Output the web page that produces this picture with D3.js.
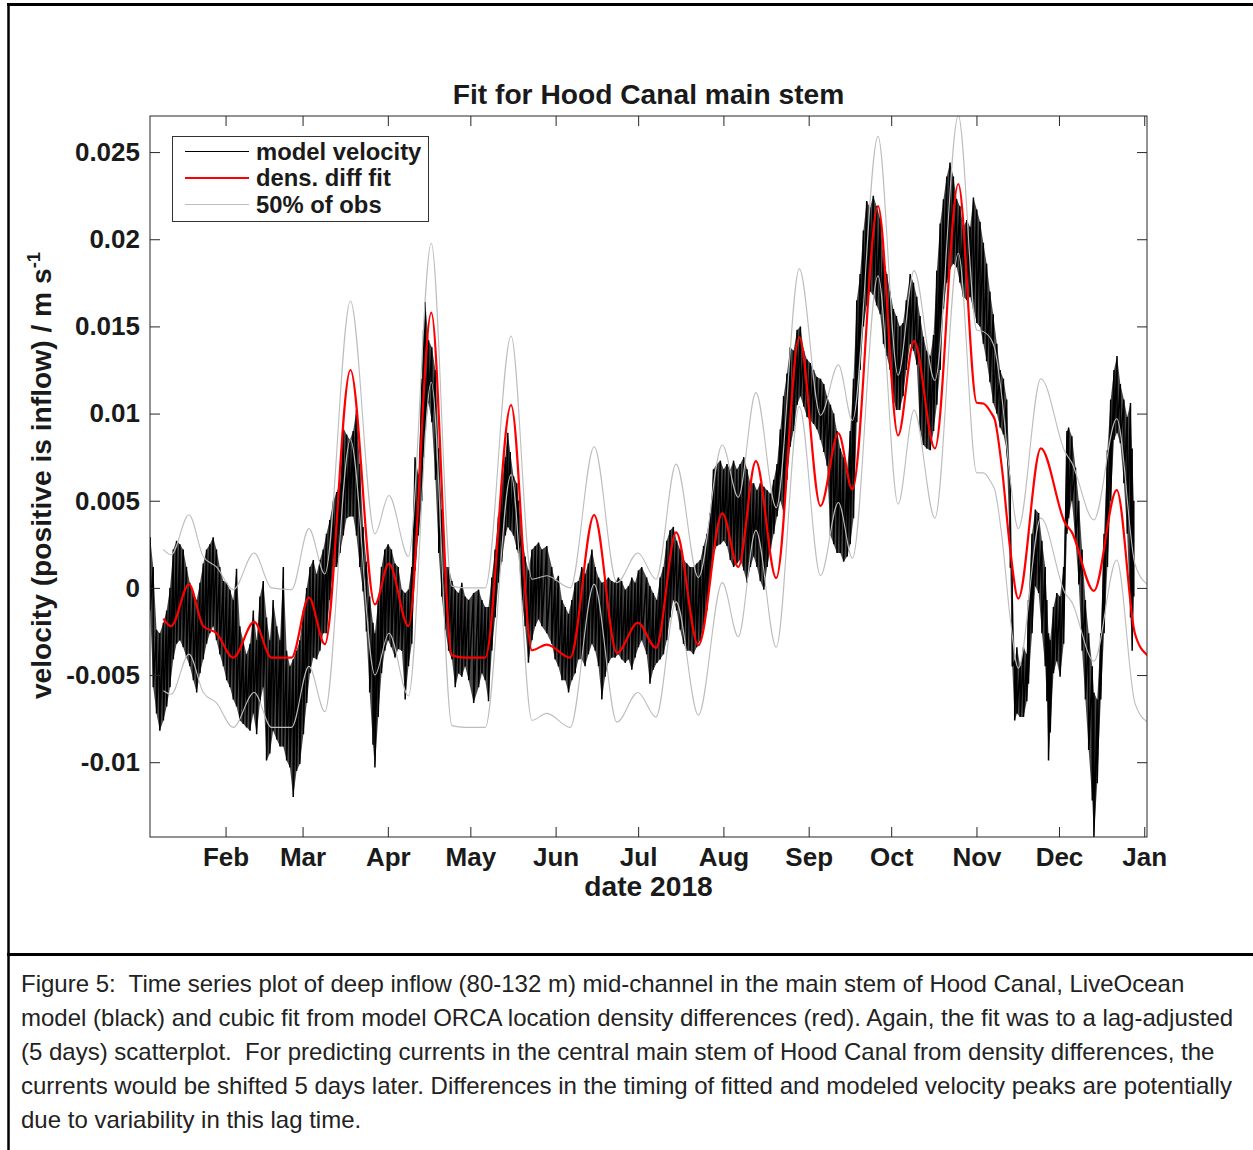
<!DOCTYPE html>
<html>
<head>
<meta charset="utf-8">
<script src="https://cdn.jsdelivr.net/npm/d3@7"></script>
<style>
  html, body { margin: 0; padding: 0; background: #fff; }
  svg { display: block; }
  .mfont { font-family: "Liberation Sans", Arial, Helvetica, sans-serif; font-weight: bold; fill: #1a1a1a; }
  .caption { font-family: "Liberation Sans", Arial, Helvetica, sans-serif; font-size: 24px; fill: #222; white-space: pre; }
</style>
</head>
<body>
<svg id="fig" width="1253" height="1150"></svg>
<script>
// ---------------- data (days counted from 2018-01-01 00:00 UTC) ----------------

// cubic fit from density differences
const fitDay = [8.4, 11.2, 17.7, 22.9, 27.7, 33.8, 41.4, 47.7, 55.0, 61.3, 67.1, 76.4, 85.3, 90.4,
  97.5, 105.8, 113.3, 118.1, 125.4, 134.8, 142.4, 147.8, 156.3, 165.0, 173.3, 180.9, 187.5, 194.8,
  202.9, 211.6, 217.4, 223.8, 231.2, 239.6, 247.3, 253.8, 258.9, 268.2, 275.5, 281.3, 288.9, 297.4,
  304.1, 306.5, 309.5, 310.7, 313.2, 316.3, 319.2, 327.4, 336.2, 338.6, 346.7, 355.0, 361.6, 366.1];
const fitValue = [-0.00176, -0.0022, 0.0002, -0.0022, -0.0026, -0.0040, -0.00195, -0.0040, -0.0040,
  -0.00055, -0.00323, 0.0125, -0.00095, 0.0014, -0.0022, 0.01579, -0.00386, -0.0040, -0.0040, 0.01049,
  -0.00358, -0.00325, -0.0040, 0.00417, -0.00373, -0.0020, -0.00344, 0.00318, -0.00329, 0.00427,
  0.0012, 0.00727, 0.00057, 0.01437, 0.0047, 0.00886, 0.00565, 0.0219, 0.00875, 0.01415, 0.0080,
  0.02317, 0.01062, 0.01058, 0.0100, 0.00963, 0.00695, 0.00217, -0.00061, 0.0080, 0.00373, 0.00321,
  -0.00017, 0.00561, -0.00262, -0.00386];

// 50% of observations band (upper and lower edges)
const obsHigh = [0.0022, 0.0019, 0.0042, 0.0018, 0.0012, -0.0001, 0.0020, 0.0000, -0.0001, 0.0034,
  0.0008, 0.01646, 0.0031, 0.0053, 0.0018, 0.01977, 0.0001, 0.0000, 0.0000, 0.01445, 0.0005, 0.0007,
  0.0000, 0.0081, 0.0003, 0.0020, 0.0005, 0.0071, 0.0006, 0.0082, 0.0052, 0.0112, 0.0046, 0.0183,
  0.0099, 0.0128, 0.0096, 0.0259, 0.0122, 0.0182, 0.0119, 0.0271, 0.0148, 0.0147, 0.0142, 0.0137,
  0.0110, 0.0062, 0.0034, 0.0120, 0.0078, 0.0072, 0.0039, 0.0097, 0.0014, 0.0002];
const obsLow = [-0.0059, -0.0061, -0.0038, -0.0060, -0.0066, -0.0080, -0.0060, -0.0080, -0.0080,
  -0.0045, -0.0071, 0.0085, -0.0050, -0.0026, -0.0062, 0.0118, -0.0079, -0.0080, -0.0080, 0.0065,
  -0.0076, -0.0072, -0.0080, 0.0002, -0.0077, -0.0060, -0.0074, -0.0008, -0.0073, 0.0003, -0.0028,
  0.0033, -0.0034, 0.0104, 0.0007, 0.0049, 0.0017, 0.0179, 0.0048, 0.0102, 0.0040, 0.0192, 0.0066,
  0.0066, 0.0060, 0.0056, 0.0030, -0.0018, -0.0046, 0.0040, -0.0003, -0.0008, -0.0042, 0.0016,
  -0.0066, -0.0077];

// model velocity: [day, tidal high, tidal low]
const modelVelocity = [
  [3.6, 0.0029, -0.0013], [4.7, 0.0012, -0.0057], [5.9, -0.0024, -0.0072], [7.1, -0.0026, -0.0082],
  [8.4, -0.0020, -0.0076], [9.6, -0.0013, -0.0068], [10.8, 0.0000, -0.0057], [12.0, 0.0022, -0.0041],
  [13.2, 0.0027, -0.0032], [14.4, 0.0025, -0.0030], [15.6, 0.0022, -0.0034], [16.8, 0.0012, -0.0040],
  [18.0, 0.0003, -0.0045], [19.3, -0.0003, -0.0053], [20.5, -0.0007, -0.0060], [21.7, 0.0003, -0.0049],
  [22.9, 0.0014, -0.0041], [24.1, 0.0022, -0.0032], [25.3, 0.0025, -0.0026], [26.5, 0.0029, -0.0022],
  [27.7, 0.0022, -0.0030], [28.9, 0.0012, -0.0038], [30.2, 0.0004, -0.0045], [31.4, 0.0003, -0.0053],
  [32.6, -0.0001, -0.0057], [33.8, -0.0007, -0.0064], [35.0, 0.0011, -0.0068], [36.2, -0.0022, -0.0076],
  [37.4, -0.0030, -0.0078], [38.6, -0.0038, -0.0080], [39.9, -0.0032, -0.0082], [41.1, -0.0013, -0.0072],
  [42.3, -0.0030, -0.0084], [43.5, -0.0005, -0.0066], [44.7, 0.0004, -0.0057], [45.9, -0.0017, -0.0099],
  [47.1, -0.0030, -0.0095], [48.3, -0.0007, -0.0082], [49.6, -0.0022, -0.0087], [50.8, -0.0030, -0.0091],
  [52.0, 0.0012, -0.0091], [53.2, -0.0036, -0.0099], [54.4, -0.0045, -0.0103], [55.6, -0.0041, -0.0120],
  [56.8, -0.0036, -0.0105], [58.0, -0.0030, -0.0101], [59.3, -0.0013, -0.0084], [60.5, 0.0000, -0.0066],
  [61.7, 0.0012, -0.0049], [62.9, 0.0016, -0.0040], [64.1, 0.0008, -0.0041], [65.3, 0.0016, -0.0036],
  [66.5, 0.0022, -0.0026], [67.7, 0.0031, -0.0026], [68.9, 0.0039, -0.0007], [70.2, 0.0050, 0.0012],
  [71.4, 0.0055, 0.0012], [72.6, 0.0060, 0.0020], [73.8, 0.0092, 0.0030], [75.0, 0.0088, 0.0040],
  [76.2, 0.0085, 0.0041], [77.4, 0.0090, 0.0041], [78.6, 0.0102, 0.0030], [79.8, 0.0071, 0.0012],
  [81.0, 0.0035, -0.0002], [82.2, 0.0015, -0.0025], [83.4, -0.0005, -0.0060], [84.6, -0.0020, -0.0090],
  [85.3, -0.0026, -0.0103], [86.5, -0.0007, -0.0074], [87.7, 0.0012, -0.0049], [88.9, 0.0022, -0.0036],
  [90.1, 0.0025, -0.0030], [91.3, 0.0022, -0.0034], [92.6, 0.0014, -0.0040], [93.8, 0.0012, -0.0035],
  [95.1, -0.0001, -0.0036], [96.3, -0.0003, -0.0064], [97.5, -0.0001, -0.0045], [98.7, 0.0012, -0.0032],
  [99.9, 0.0075, 0.0010], [101.1, 0.0065, 0.0030], [102.4, 0.0120, 0.0050], [103.0, 0.0148, 0.0075],
  [103.6, 0.0164, 0.0090], [104.8, 0.0142, 0.0106], [106.0, 0.0138, 0.0095], [107.3, 0.0125, 0.0062],
  [108.5, 0.0080, 0.0020], [109.6, 0.0045, -0.0005], [110.9, 0.0012, -0.0024], [112.1, 0.0012, -0.0036],
  [113.3, 0.0004, -0.0041], [114.5, -0.0001, -0.0057], [115.7, -0.0003, -0.0049], [116.9, 0.0003, -0.0051],
  [118.1, -0.0005, -0.0045], [119.4, -0.0007, -0.0053], [121.2, -0.0003, -0.0066], [123.0, -0.0001, -0.0057],
  [124.2, -0.0007, -0.0049], [125.4, -0.0011, -0.0053], [126.6, -0.0011, -0.0065], [127.8, 0.0006, -0.0036],
  [129.0, 0.0022, -0.0017], [130.2, 0.0041, 0.0003], [131.4, 0.0060, 0.0015], [132.7, 0.0075, 0.0030],
  [133.6, 0.0089, 0.0035], [134.5, 0.0078, 0.0033], [135.7, 0.0064, 0.0030], [136.9, 0.0060, 0.0022],
  [137.5, 0.0050, 0.0020], [138.7, 0.0031, -0.0007], [139.9, 0.0018, -0.0022], [141.1, 0.0010, -0.0043],
  [142.4, 0.0022, -0.0030], [143.6, 0.0024, -0.0022], [144.8, 0.0026, -0.0018], [146.0, 0.0022, -0.0022],
  [147.8, 0.0024, -0.0026], [149.6, 0.0012, -0.0032], [150.8, 0.0004, -0.0041], [152.0, 0.0007, -0.0045],
  [153.3, -0.0007, -0.0053], [154.5, -0.0011, -0.0053], [155.7, -0.0015, -0.0060], [156.9, -0.0007, -0.0053],
  [158.1, 0.0003, -0.0049], [159.3, 0.0004, -0.0041], [160.5, 0.0012, -0.0041], [161.7, 0.0008, -0.0045],
  [162.9, 0.0014, -0.0038], [164.2, 0.0022, -0.0032], [165.4, 0.0012, -0.0036], [166.6, 0.0006, -0.0045],
  [167.8, 0.0003, -0.0064], [169.0, 0.0004, -0.0051], [170.2, 0.0006, -0.0043], [171.4, 0.0004, -0.0040],
  [172.6, 0.0003, -0.0040], [173.8, 0.0006, -0.0038], [175.0, 0.0004, -0.0041], [176.3, -0.0001, -0.0043],
  [177.5, 0.0001, -0.0041], [178.7, 0.0006, -0.0047], [179.9, 0.0003, -0.0040], [181.1, 0.0010, -0.0034],
  [182.3, 0.0012, -0.0030], [184.1, 0.0006, -0.0038], [185.3, 0.0001, -0.0055], [186.5, -0.0003, -0.0047],
  [187.8, -0.0007, -0.0043], [189.0, 0.0006, -0.0041], [190.2, 0.0012, -0.0038], [191.4, 0.0027, -0.0030],
  [192.6, 0.0033, -0.0017], [193.8, 0.0035, -0.0007], [195.0, 0.0027, -0.0013], [196.3, 0.0022, -0.0024],
  [197.5, 0.0016, -0.0032], [198.7, 0.0014, -0.0036], [199.9, 0.0012, -0.0036], [201.1, 0.0012, -0.0038],
  [202.3, 0.0014, -0.0034], [203.6, 0.0016, -0.0030], [204.8, 0.0024, -0.0022], [206.0, 0.0031, -0.0013],
  [207.2, 0.0043, 0.0003], [208.4, 0.0068, 0.0020], [209.6, 0.0071, 0.0024], [210.9, 0.0073, 0.0025],
  [212.1, 0.0068, 0.0027], [213.3, 0.0071, 0.0024], [214.5, 0.0068, 0.0016], [215.7, 0.0073, 0.0012],
  [216.9, 0.0068, 0.0014], [218.1, 0.0071, 0.0016], [219.4, 0.0075, 0.0010], [220.6, 0.0068, 0.0003],
  [221.8, 0.0060, 0.0012], [223.0, 0.0060, 0.0018], [224.2, 0.0056, 0.0012], [225.4, 0.0060, 0.0004],
  [226.7, 0.0058, -0.0001], [227.9, 0.0056, 0.0012], [229.1, 0.0054, 0.0022], [230.3, 0.0062, 0.0031],
  [231.5, 0.0071, 0.0041], [232.7, 0.0091, 0.0050], [233.9, 0.0110, 0.0043], [235.1, 0.0123, 0.0062],
  [236.3, 0.0138, 0.0081], [237.5, 0.0136, 0.0090], [238.8, 0.0148, 0.0105], [240.0, 0.0150, 0.0110],
  [241.2, 0.0136, 0.0104], [242.4, 0.0131, 0.0098], [243.6, 0.0129, 0.0096], [244.8, 0.0125, 0.0094],
  [246.0, 0.0121, 0.0091], [247.3, 0.0120, 0.0085], [248.5, 0.0117, 0.0078], [249.7, 0.0110, 0.0070],
  [250.9, 0.0105, 0.0030], [252.1, 0.0100, 0.0025], [253.3, 0.0090, 0.0020], [254.5, 0.0080, 0.0020],
  [255.7, 0.0075, 0.0015], [257.0, 0.0068, 0.0018], [258.1, 0.0090, 0.0025], [259.3, 0.0120, 0.0040],
  [260.5, 0.0165, 0.0095], [261.7, 0.0180, 0.0125], [262.9, 0.0205, 0.0150], [264.1, 0.0222, 0.0162],
  [265.3, 0.0218, 0.0170], [266.5, 0.0225, 0.0168], [267.7, 0.0219, 0.0162], [269.0, 0.0212, 0.0157],
  [270.2, 0.0190, 0.0140], [271.4, 0.0180, 0.0133], [272.6, 0.0170, 0.0125], [273.8, 0.0160, 0.0108],
  [274.9, 0.0156, 0.0102], [276.1, 0.0150, 0.0102], [277.3, 0.0152, 0.0110], [278.5, 0.0165, 0.0125],
  [279.9, 0.0180, 0.0140], [281.1, 0.0175, 0.0136], [282.3, 0.0167, 0.0128], [283.5, 0.0156, 0.0090],
  [284.7, 0.0144, 0.0082], [285.9, 0.0136, 0.0080], [287.2, 0.0133, 0.0079], [288.4, 0.0145, 0.0090],
  [289.6, 0.0182, 0.0105], [290.8, 0.0209, 0.0125], [292.0, 0.0223, 0.0160], [293.2, 0.0236, 0.0175],
  [294.4, 0.0244, 0.0183], [295.6, 0.0236, 0.0186], [296.8, 0.0223, 0.0184], [298.0, 0.0219, 0.0175],
  [299.2, 0.0207, 0.0167], [300.5, 0.0211, 0.0165], [301.7, 0.0207, 0.0167], [302.9, 0.0224, 0.0160],
  [304.1, 0.0217, 0.0152], [305.3, 0.0210, 0.0150], [306.5, 0.0198, 0.0140], [307.7, 0.0186, 0.0130],
  [308.9, 0.0170, 0.0118], [310.1, 0.0157, 0.0106], [311.4, 0.0140, 0.0100], [312.6, 0.0125, 0.0092],
  [313.8, 0.0120, 0.0088], [315.0, 0.0108, 0.0079], [316.3, 0.0060, 0.0012], [317.0, 0.0012, -0.0045],
  [317.9, -0.0042, -0.0076], [318.7, -0.0034, -0.0072], [319.9, -0.0045, -0.0074], [321.1, -0.0034, -0.0074],
  [322.3, -0.0038, -0.0065], [322.9, -0.0007, -0.0055], [324.2, 0.0031, -0.0026], [325.4, 0.0045, 0.0001],
  [326.6, 0.0043, -0.0003], [327.8, 0.0027, -0.0026], [329.0, 0.0012, -0.0045], [329.6, -0.0007, -0.0065],
  [330.2, -0.0026, -0.0099], [330.8, -0.0030, -0.0083], [332.0, -0.0011, -0.0049], [333.2, -0.0003, -0.0042],
  [334.4, -0.0005, -0.0051], [335.7, 0.0012, -0.0032], [336.9, 0.0090, 0.0031], [337.5, 0.0092, 0.0040],
  [338.7, 0.0087, 0.0050], [340.0, 0.0069, 0.0027], [341.2, 0.0050, 0.0002], [342.4, 0.0022, -0.0036],
  [343.6, -0.0007, -0.0064], [344.8, -0.0026, -0.0093], [346.1, -0.0045, -0.0122], [346.7, -0.0060, -0.0143],
  [347.9, -0.0064, -0.0112], [349.2, -0.0026, -0.0064], [350.4, 0.0031, -0.0026], [351.6, 0.0079, 0.0012],
  [352.8, 0.0108, 0.0050], [354.0, 0.0125, 0.0085], [355.1, 0.0133, 0.0089], [356.3, 0.0117, 0.0083],
  [357.6, 0.0108, 0.0060], [358.8, 0.0098, 0.0031], [360.0, 0.0106, -0.0017], [360.6, 0.0080, -0.0036],
  [361.2, 0.0050, -0.0005]
];

// axis ticks and labels
const monthTicks = ["2018-02-01", "2018-03-01", "2018-04-01", "2018-05-01", "2018-06-01", "2018-07-01",
  "2018-08-01", "2018-09-01", "2018-10-01", "2018-11-01", "2018-12-01", "2019-01-01"];
const monthLabels = ["Feb", "Mar", "Apr", "May", "Jun", "Jul", "Aug", "Sep", "Oct", "Nov", "Dec", "Jan"];
const velocityTicks = [0.025, 0.02, 0.015, 0.01, 0.005, 0, -0.005, -0.01];
const velocityTickLabels = ["0.025", "0.02", "0.015", "0.01", "0.005", "0", "-0.005", "-0.01"];
const timeExtent = ["2018-01-04T12:45:00Z", "2019-01-02T00:00:00Z"];
const velocityExtent = [-0.01429, 0.02707];

const legendLabels = ["model velocity", "dens. diff fit", "50% of obs"];
const captionLines = [
  "Figure 5:  Time series plot of deep inflow (80-132 m) mid-channel in the main stem of Hood Canal, LiveOcean",
  "model (black) and cubic fit from model ORCA location density differences (red). Again, the fit was to a lag-adjusted",
  "(5 days) scatterplot.  For predicting currents in the central main stem of Hood Canal from density differences, the",
  "currents would be shifted 5 days later. Differences in the timing of fitted and modeled velocity peaks are potentially",
  "due to variability in this lag time."
];

// ---------------- drawing ----------------
const svg = d3.select("#fig");
const W = 1253, H = 1150;
const plot = { left: 150, right: 1147, top: 116, bottom: 837 };

const DAY_MS = 864e5, T0 = Date.UTC(2018, 0, 1);
const dayToDate = d => new Date(T0 + d * DAY_MS);

const x = d3.scaleUtc()
  .domain(timeExtent.map(s => new Date(s)))
  .range([plot.left, plot.right]);
const y = d3.scaleLinear()
  .domain(velocityExtent)
  .range([plot.bottom, plot.top]);

// page frame lines (document table borders)
svg.append("line").attr("x1", 7).attr("x2", W).attr("y1", 4.5).attr("y2", 4.5)
  .attr("stroke", "#000").attr("stroke-width", 3);
svg.append("line").attr("x1", 8.5).attr("x2", 8.5).attr("y1", 3).attr("y2", H)
  .attr("stroke", "#000").attr("stroke-width", 2.5);
svg.append("line").attr("x1", 7).attr("x2", W).attr("y1", 954.5).attr("y2", 954.5)
  .attr("stroke", "#000").attr("stroke-width", 3);

// clip for series
svg.append("defs").append("clipPath").attr("id", "plotClip")
  .append("rect")
  .attr("x", plot.left).attr("y", plot.top)
  .attr("width", plot.right - plot.left).attr("height", plot.bottom - plot.top);

const series = svg.append("g").attr("clip-path", "url(#plotClip)");

// model velocity: shaded tidal range plus the trace swinging between high and low
const velArea = d3.area()
  .x(d => x(dayToDate(d[0])))
  .y0(d => y(d[2]))
  .y1(d => y(d[1]));
series.append("path")
  .datum(modelVelocity)
  .attr("d", velArea)
  .attr("fill", "#000")
  .attr("fill-opacity", 0.72);

const zig = [];
modelVelocity.forEach(d => { zig.push([d[0], d[1]]); zig.push([d[0], d[2]]); });
const velLine = d3.line().x(d => x(dayToDate(d[0]))).y(d => y(d[1]));
series.append("path")
  .datum(zig)
  .attr("d", velLine)
  .attr("fill", "none")
  .attr("stroke", "#000")
  .attr("stroke-width", 1.5)
  .attr("stroke-linejoin", "miter");

// fitted velocity and the observation band
const smooth = vals => d3.line()
  .x((d, i) => x(dayToDate(fitDay[i])))
  .y(d => y(d))
  .curve(d3.curveMonotoneX)(vals);

series.append("path")
  .attr("d", smooth(fitValue))
  .attr("fill", "none").attr("stroke", "#ff0000").attr("stroke-width", 2.2);
[obsHigh, obsLow].forEach(vals => {
  series.append("path")
    .attr("d", smooth(vals))
    .attr("fill", "none").attr("stroke", "#bdbdbd").attr("stroke-width", 1.1);
});

// axes: ticks pointing inward on all four sides
const axisColor = "#262626";
const monthDates = monthTicks.map(s => new Date(s + "T00:00:00Z"));

const gx = svg.append("g").attr("transform", `translate(0,${plot.bottom})`)
  .call(d3.axisBottom(x).tickValues(monthDates)
    .tickFormat((d, i) => monthLabels[i])
    .tickSizeInner(-10).tickSizeOuter(0).tickPadding(11));
const gxTop = svg.append("g").attr("transform", `translate(0,${plot.top})`)
  .call(d3.axisTop(x).tickValues(monthDates).tickFormat(() => "")
    .tickSizeInner(-10).tickSizeOuter(0));
const gy = svg.append("g").attr("transform", `translate(${plot.left},0)`)
  .call(d3.axisLeft(y).tickValues(velocityTicks)
    .tickFormat((d, i) => velocityTickLabels[i])
    .tickSizeInner(-10).tickSizeOuter(0).tickPadding(10));
const gyRight = svg.append("g").attr("transform", `translate(${plot.right},0)`)
  .call(d3.axisRight(y).tickValues(velocityTicks).tickFormat(() => "")
    .tickSizeInner(-10).tickSizeOuter(0));

[gx, gxTop, gy, gyRight].forEach(g => {
  g.select(".domain").remove();
  g.selectAll(".tick line").attr("stroke", axisColor).attr("stroke-width", 1);
  g.selectAll(".tick text").attr("class", "mfont").style("font-size", "26px").attr("fill", "#1a1a1a");
});

svg.append("rect")
  .attr("x", plot.left).attr("y", plot.top)
  .attr("width", plot.right - plot.left).attr("height", plot.bottom - plot.top)
  .attr("fill", "none").attr("stroke", axisColor).attr("stroke-width", 1);

// title and axis labels
const midX = (plot.left + plot.right) / 2;
svg.append("text").attr("class", "mfont")
  .attr("x", midX).attr("y", 104).attr("text-anchor", "middle")
  .style("font-size", "28.2px")
  .text("Fit for Hood Canal main stem");
svg.append("text").attr("class", "mfont")
  .attr("x", midX).attr("y", 896).attr("text-anchor", "middle")
  .style("font-size", "28.2px")
  .text("date 2018");
const ylab = svg.append("text").attr("class", "mfont")
  .attr("transform", `translate(51,${(plot.top + plot.bottom) / 2 - 1}) rotate(-90)`)
  .attr("text-anchor", "middle")
  .style("font-size", "28.2px");
ylab.append("tspan").text("velocity (positive is inflow) / m s");
ylab.append("tspan").attr("dy", -11).style("font-size", "18.5px").text("-1");

// legend
const legend = svg.append("g");
legend.append("rect")
  .attr("x", 172.5).attr("y", 136.5).attr("width", 256).attr("height", 85)
  .attr("fill", "#fff").attr("stroke", "#333").attr("stroke-width", 1);
const legendStyles = [
  { stroke: "#000", width: 1.1 },
  { stroke: "#ff0000", width: 2.2 },
  { stroke: "#bdbdbd", width: 1.1 }
];
legendLabels.forEach((lab, i) => {
  const ry = 151.5 + i * 26.5;
  legend.append("line").attr("x1", 185).attr("x2", 249).attr("y1", ry).attr("y2", ry)
    .attr("stroke", legendStyles[i].stroke).attr("stroke-width", legendStyles[i].width);
  legend.append("text").attr("class", "mfont")
    .attr("x", 256).attr("y", ry + 8)
    .style("font-size", "23.8px")
    .text(lab);
});

// caption
svg.append("g").selectAll("text").data(captionLines).join("text")
  .attr("class", "caption")
  .attr("x", 21)
  .attr("y", (d, i) => 992 + i * 34)
  .text(d => d);
</script>
</body>
</html>
